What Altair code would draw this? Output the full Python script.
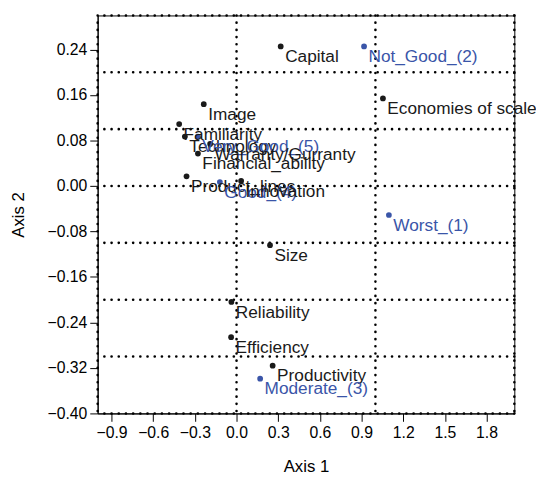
import altair as alt
import pandas as pd

# ---- data ----
labels = ["Capital", "Not_Good_(2)", "Economies of scale", "Image", "Familiarity",
          "Technology", "Very_Good_(5)", "Warranty/Gurranty", "Financial_ability",
          "Product_lines", "Good_(4)", "Innovation", "Worst_(1)", "Size",
          "Reliability", "Efficiency", "Productivity", "Moderate_(3)"]
axis1 = [0.318, 0.918, 1.054, -0.236, -0.413, -0.372, -0.278, -0.19, -0.278,
         -0.36, -0.12, 0.033, 1.097, 0.241, -0.037, -0.039, 0.26, 0.17]
axis2 = [0.2456, 0.2456, 0.154, 0.144, 0.109, 0.087, 0.087, 0.074, 0.057,
         0.017, 0.007, 0.009, -0.051, -0.104, -0.204, -0.266, -0.316, -0.339]
group = ["attribute", "level", "attribute", "attribute", "attribute",
         "attribute", "level", "attribute", "attribute",
         "attribute", "level", "attribute", "level", "attribute",
         "attribute", "attribute", "attribute", "level"]

x_ticks = [-0.9, -0.6, -0.3, 0.0, 0.3, 0.6, 0.9, 1.2, 1.5, 1.8]
y_ticks = [-0.40, -0.32, -0.24, -0.16, -0.08, 0.00, 0.08, 0.16, 0.24]
x_grid = [-1.0, 0.0, 1.0, 2.0]
y_grid = [-0.4, -0.3, -0.2, -0.1, 0.0, 0.1, 0.2, 0.3]

df = pd.DataFrame({"x": axis1, "y": axis2, "label": labels, "group": group})
vgrid = pd.DataFrame({"x": x_grid})
hgrid = pd.DataFrame({"y": y_grid})

FONT = "Liberation Sans"

xenc = alt.X("x:Q", scale=alt.Scale(domain=[-1, 2], nice=False, zero=False),
             axis=alt.Axis(title="Axis 1", values=x_ticks, grid=False, format=".1f",
                           tickSize=8, labelPadding=3, titlePadding=19))
yenc = alt.Y("y:Q", scale=alt.Scale(domain=[-0.4, 0.3], nice=False, zero=False),
             axis=alt.Axis(title="Axis 2", values=y_ticks, grid=False, format=".2f",
                           tickSize=8, labelPadding=3, titlePadding=20))

dots = dict(color="black", strokeWidth=2.6, strokeDash=[0.1, 7.2], strokeCap="round")

vlines = alt.Chart(vgrid).mark_rule(**dots).encode(x=xenc)
hlines = alt.Chart(hgrid).mark_rule(**dots).encode(y=yenc)

color = alt.Color("group:N", scale=alt.Scale(domain=["attribute", "level"],
                                              range=["#1a1a1a", "#3a55a8"]), legend=None)

points = alt.Chart(df).mark_circle(size=34, opacity=1).encode(x=xenc, y=yenc, color=color)
texts = alt.Chart(df).mark_text(align="left", baseline="alphabetic", dx=4.5, dy=16,
                                fontSize=17.5, font=FONT).encode(
    x=xenc, y=yenc, text="label:N", color=color)

chart = alt.layer(vlines, hlines, points, texts).properties(
    width=423, height=404,
    padding={"left": 91, "top": 4, "right": 22, "bottom": 62},
    autosize=alt.AutoSizeParams(type="none"),
).configure_view(stroke="black", strokeWidth=1).configure_axis(
    labelFont=FONT, titleFont=FONT, labelFontSize=16, titleFontSize=17,
    titleFontWeight="normal", labelColor="black", titleColor="black",
    tickColor="black", domainColor="black", tickWidth=1, domainWidth=1,
)

chart.save("out.html", embed_options={"renderer": "svg", "actions": False})
